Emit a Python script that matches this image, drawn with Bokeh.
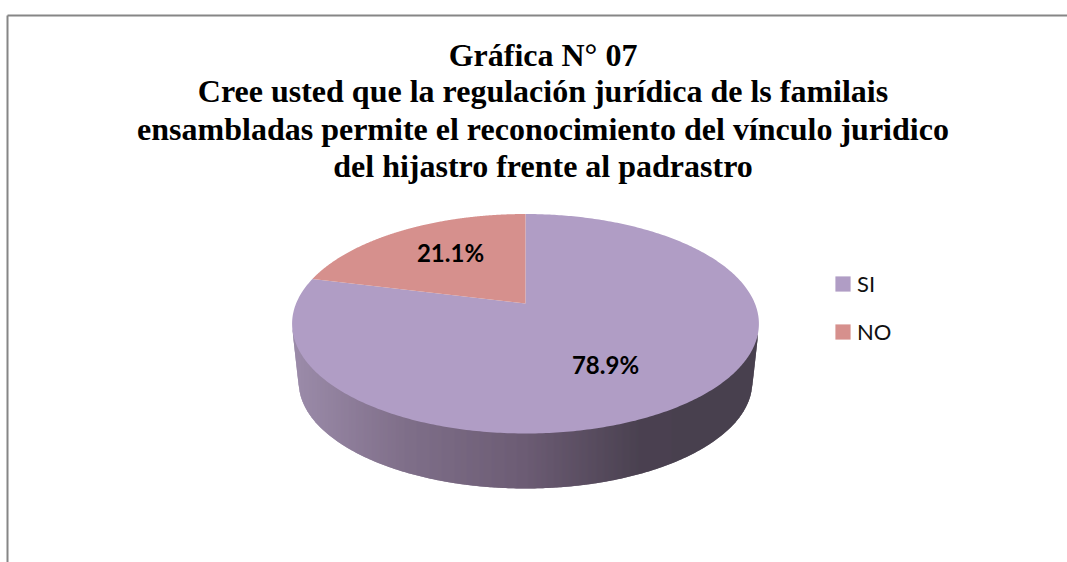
import numpy as np
from bokeh.embed import file_html
from bokeh.resources import INLINE
from bokeh.plotting import figure
from bokeh.models import Range1d, Legend, LegendItem
from bokeh.core.properties import value

# ---- chart data
categories = ["SI", "NO"]
shares = [78.9, 21.1]
share_labels = ["78.9%", "21.1%"]
title_lines = [
    "Gráfica N° 07",
    "Cree usted que la regulación jurídica de ls familais",
    "ensambladas permite el reconocimiento del vínculo juridico",
    "del hijastro frente al padrastro",
]

# ---- styles and layout
W, H = 1067, 562
slice_colors = ["#B09DC5", "#D6908D"]
cx, vy = 525.0, 303.0          # projected pie centre
K, C, E = 229.4, 106.0, 0.1845  # perspective of the top disc
depth = 55.0
side_stops_x = [298, 400, 525, 640, 760]
side_stops_c = [(154, 138, 168), (128, 112, 138), (108, 92, 116), (74, 65, 80), (72, 64, 78)]

p = figure(width=W, height=H, output_backend="svg", toolbar_location=None,
           x_range=Range1d(0, W), y_range=Range1d(H, 0),
           min_border=0, outline_line_color=None, background_fill_color="white",
           margin=0)
p.axis.visible = False
p.grid.visible = False

# frame: only top and left edges show
p.line([7, W], [15, 15], line_color="#868686", line_width=2)
p.line([7, 7], [15, H], line_color="#868686", line_width=2)


def rim(theta):
    d = 1 + E * np.cos(theta)
    return cx + K * np.sin(theta) / d, vy - C * np.cos(theta) / d


# side wall: swept outline, shaded column by column
rx_top, ry_top = 233.5, 110.0
cy_top = 323.0
rx_base, ry_base = 227.0, 107.0
cy_base = cy_top + depth + 3.0

edges = np.arange(292.0, 758.0, 1.0)
upper = cy_top + ry_top * np.sqrt(np.clip(1 - ((edges - cx) / rx_top) ** 2, 0, 1)) - 2
lower = upper.copy()
for t in np.linspace(0, 1, 120):
    rx = rx_top + (rx_base - rx_top) * t
    ry = ry_top + (ry_base - ry_top) * t
    yc = cy_top + (cy_base - cy_top) * t
    inside = np.abs(edges - cx) < rx
    y = np.where(inside, yc + ry * np.sqrt(np.clip(1 - ((edges - cx) / rx) ** 2, 0, 1)), 0)
    lower = np.maximum(lower, y)

xs, ys, strip_colors = [], [], []
for i in range(len(edges) - 1):
    j = min(i + 2, len(edges) - 1)   # slight overlap hides seams
    xs.append([edges[i], edges[j], edges[j], edges[i]])
    ys.append([upper[i], upper[j], lower[j], lower[i]])
    rgb = [np.interp(edges[i], side_stops_x, [s[k] for s in side_stops_c]) for k in range(3)]
    strip_colors.append("#%02x%02x%02x" % tuple(int(round(v)) for v in rgb))
p.patches(xs, ys, fill_color=strip_colors, line_color=None)

# top face: one wedge per value, clockwise from 12 o'clock
total = sum(shares)
angles = np.cumsum([0] + shares) / total * 2 * np.pi
items = []
for name, a0, a1, col in zip(categories, angles[:-1], angles[1:], slice_colors):
    th = np.linspace(a0, a1, 400)
    x, y = rim(th)
    r = p.patch(np.r_[cx, x], np.r_[vy, y], fill_color=col, line_color=None)
    items.append(LegendItem(label=name, renderers=[r]))

# value labels
label_x = [605, 450]
label_y = [364, 252]
p.text(label_x, label_y, text=share_labels, text_font=value("Lato"), text_font_style="bold",
       text_font_size="24px", text_color="black", text_align="center", text_baseline="middle")

# title
title_y = [54, 90, 128, 165]
p.text([542.5] * 4, title_y, text=title_lines, text_font=value("Liberation Serif"),
       text_font_style="bold", text_font_size="32px", text_color="black",
       text_align="center", text_baseline="alphabetic")

legend = Legend(items=items, location=(833, H - 345), orientation="vertical",
                background_fill_alpha=0, border_line_color=None,
                glyph_width=19, glyph_height=19, label_height=19, spacing=21,
                label_text_font="Lato", label_text_font_size="22px", label_text_color="#111111",
                label_standoff=5, margin=0, padding=6)
p.add_layout(legend, "center")

open("out.html", "w").write(file_html(p, INLINE))
